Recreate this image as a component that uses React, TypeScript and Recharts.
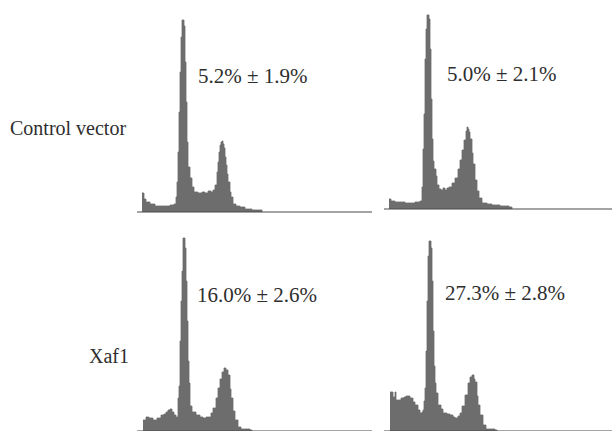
import React from "react";
import { AreaChart, Area, XAxis, YAxis } from "recharts";

// DNA content histograms: [channel, cell count]
const controlLeft: [number, number][] = [
  [5, 19], [7, 13], [9, 10], [13, 8], [18, 6], [23, 6], [28, 6], [33, 7], [37, 8],
  [39, 15], [40, 30], [41, 60], [42, 100], [43, 140], [44, 175], [45, 192], [47, 186],
  [48, 150], [49, 110], [50, 70], [51, 45], [53, 34], [55, 25], [57, 20], [61, 19],
  [65, 20], [68, 19], [71, 21], [74, 20], [76, 22], [78, 27], [80, 40], [81, 50],
  [82, 60], [83, 67], [84, 70], [85, 71], [86, 68], [87, 64], [88, 55], [89, 47],
  [90, 38], [91, 30], [93, 20], [94, 15], [96, 8], [99, 6], [103, 5], [108, 3],
  [115, 2], [125, 0],
];

const controlRight: [number, number][] = [
  [5, 10], [7, 8], [11, 7], [16, 7], [21, 6], [26, 6], [31, 7], [36, 8], [38, 22],
  [39, 60], [40, 95], [41, 150], [42, 180], [43, 194], [45, 190], [46, 160], [47, 110],
  [48, 70], [49, 48], [50, 40], [52, 33], [53, 24], [55, 20], [57, 19], [59, 21],
  [61, 19], [63, 21], [65, 22], [68, 26], [71, 31], [74, 40], [76, 49], [78, 59],
  [80, 69], [82, 78], [83, 82], [84, 80], [85, 77], [86, 70], [88, 56], [89, 45],
  [91, 29], [93, 18], [95, 11], [98, 6], [103, 5], [108, 4], [116, 3], [125, 2], [128, 0],
];

const xafLeft: [number, number][] = [
  [6, 11], [9, 14], [12, 13], [16, 11], [20, 13], [24, 16], [27, 17], [29, 19], [31, 21],
  [33, 22], [35, 19], [37, 16], [39, 14], [41, 33], [42, 45], [43, 90], [44, 130],
  [45, 160], [46, 193], [48, 183], [49, 150], [50, 110], [51, 70], [52, 48], [53, 25],
  [55, 19], [59, 16], [63, 14], [66, 13], [69, 14], [71, 14], [74, 18], [76, 23],
  [79, 33], [81, 43], [83, 52], [85, 59], [87, 63], [88, 63], [89, 61], [91, 56],
  [93, 42], [94, 33], [96, 20], [98, 11], [101, 4], [104, 2], [113, 1], [115, 0],
];

const xafRight: [number, number][] = [
  [6, 39], [8, 39], [9, 34], [11, 39], [12, 31], [14, 31], [17, 33], [20, 34], [22, 35],
  [24, 35], [26, 33], [29, 29], [31, 26], [34, 21], [36, 18], [38, 19], [39, 21],
  [40, 30], [41, 43], [42, 80], [43, 130], [44, 175], [45, 190], [47, 183], [48, 150],
  [49, 100], [50, 65], [51, 48], [52, 38], [54, 26], [57, 22], [59, 18], [63, 17],
  [66, 16], [69, 14], [71, 13], [74, 15], [76, 18], [78, 25], [81, 36], [84, 48],
  [86, 54], [88, 56], [90, 52], [91, 49], [93, 35], [94, 26], [96, 16], [99, 6],
  [102, 2], [111, 1], [113, 0],
];

const rowLabels = ["Control vector", "Xaf1"];
const percentLabels = ["5.2% ± 1.9%", "5.0% ± 2.1%", "16.0% ± 2.6%", "27.3% ± 2.8%"];

const FILL = "#6d6d6d";

function Histogram({ data, left, axisY, width }: {
  data: [number, number][];
  left: number;
  axisY: number;
  width: number;
}) {
  const rows = data.map(([ch, n]) => ({ ch, n }));
  return (
    <div style={{ position: "absolute", left, top: axisY - 200 }}>
      <AreaChart width={width} height={201} data={rows} margin={{ top: 0, right: 0, bottom: 0, left: 0 }}>
        <XAxis
          dataKey="ch"
          type="number"
          domain={[0, width]}
          height={1}
          tick={false}
          tickLine={false}
          axisLine={{ stroke: "#4a4a4a", strokeWidth: 1.2 }}
        />
        <YAxis hide type="number" domain={[0, 200]} allowDataOverflow />
        <Area
          type="stepAfter"
          dataKey="n"
          stroke={FILL}
          strokeWidth={0.8}
          fill={FILL}
          fillOpacity={1}
          dot={false}
          activeDot={false}
          isAnimationActive={false}
        />
      </AreaChart>
    </div>
  );
}

// baseline-anchored text label in plain HTML
function Label({ text, x, baseline, size }: { text: string; x: number; baseline: number; size: number }) {
  return (
    <div
      style={{
        position: "absolute",
        left: x,
        top: baseline - Math.round(size * 0.84),
        fontFamily: "Liberation Serif",
        fontSize: size,
        lineHeight: `${size}px`,
        color: "#2e2e2e",
        whiteSpace: "nowrap",
      }}
    >
      {text}
    </div>
  );
}

export default function App() {
  return (
    <div style={{ position: "fixed", left: 0, top: 0, width: 612, height: 431, background: "#fff", overflow: "hidden" }}>
      <Histogram data={controlLeft} left={137} axisY={212} width={235} />
      <Histogram data={controlRight} left={384} axisY={209} width={228} />
      <Histogram data={xafLeft} left={137} axisY={431} width={235} />
      <Histogram data={xafRight} left={384} axisY={431} width={228} />
      <Label text={rowLabels[0]} x={10} baseline={135} size={20} />
      <Label text={rowLabels[1]} x={89} baseline={363} size={20} />
      <Label text={percentLabels[0]} x={198} baseline={84} size={21} />
      <Label text={percentLabels[1]} x={447} baseline={82} size={21} />
      <Label text={percentLabels[2]} x={197} baseline={303} size={21} />
      <Label text={percentLabels[3]} x={445} baseline={301} size={21} />
    </div>
  );
}
